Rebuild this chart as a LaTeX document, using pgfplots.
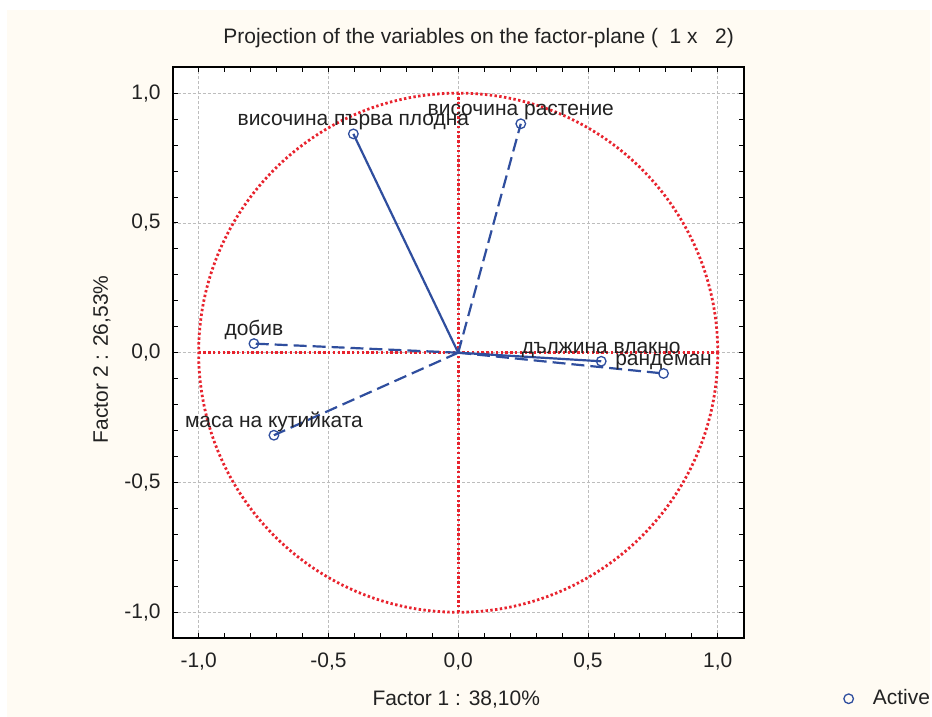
\documentclass[border=0pt]{standalone}
\usepackage{pgfplots}
\pgfplotsset{compat=1.18}
\usepackage{fontspec}
\setmainfont{Liberation Sans}
\definecolor{cream}{HTML}{FFFBF3}
\definecolor{lblue}{HTML}{2F4E9E}
\definecolor{rdot}{HTML}{E8232E}
\definecolor{txt}{HTML}{222222}
\definecolor{gridc}{HTML}{BDBDBD}
\begin{document}
\fontsize{21}{25}\selectfont
\begin{tikzpicture}[x=1pt,y=1pt]
\path[fill=white] (0,0) rectangle (932,718);
\fill[cream] (7,0) rectangle (932,708);
\node[txt,anchor=center] at (479.5,680) {Projection of the variables on the factor-plane (\ \ 1 x \ \ 2)};
\begin{axis}[
  at={(173pt,78.7pt)}, anchor=south west,
  scale only axis, width=572pt, height=572pt,
  xmin=-1.1, xmax=1.1, ymin=-1.1, ymax=1.1,
  axis background/.style={fill=white},
  axis line style={black, line width=1.8pt},
  xtick={-1,-0.5,0,0.5,1}, ytick={-1,-0.5,0,0.5,1},
  minor tick num=4,
  tick align=inside,
  major tick length=5pt, minor tick length=5pt,
  tick style={black, line width=0.9pt},
  grid=major,
  major grid style={gridc, line width=0.6pt, dash pattern=on 3pt off 2pt},
  /pgf/number format/.cd, use comma, fixed, fixed zerofill, precision=1, assume math mode=true,
  /pgfplots/.cd,
  ticklabel style={txt, font=\fontsize{21}{25}\selectfont},
  xticklabel style={inner sep=0pt, yshift=-14pt},
  yticklabel style={inner sep=0pt, xshift=-12pt},
  xlabel={Factor 1 : 38,10\%},
  ylabel={Factor 2 : 26,53\%},
  label style={txt, font=\fontsize{21}{25}\selectfont},
  xlabel style={at={(axis description cs:0.4965,-0.1065)}, anchor=center},
  ylabel style={at={(axis description cs:-0.1241,0.4883)}, anchor=center, rotate=0},
  legend style={at={(axis description cs:1.175,-0.106)}, anchor=west, draw=none, fill=none,
    font=\fontsize{21}{25}\selectfont, text=txt, inner sep=0pt},
  legend image code/.code={\draw[#1] plot coordinates {(0pt,0pt)};},
  clip=false,
]
% reference lines
\addplot[rdot, line width=2.8pt, dash pattern=on 2.4pt off 2.4pt, forget plot] coordinates {(-1,0) (1,0)};
\addplot[rdot, line width=2.8pt, dash pattern=on 2.4pt off 2.4pt, forget plot] coordinates {(0,-1) (0,1)};
\draw[rdot, line width=2.8pt, dash pattern=on 2.4pt off 2.4pt] (axis cs:0,0) circle [radius=1];
% vectors
\addplot[lblue, line width=2.2pt, forget plot] coordinates {(0,0) (-0.404,0.843)};
\addplot[lblue, line width=2.2pt, dash pattern=on 13pt off 6pt, forget plot] coordinates {(0,0) (0.241,0.882)};
\addplot[lblue, line width=2.2pt, dash pattern=on 13pt off 6pt, forget plot] coordinates {(0,0) (-0.787,0.035)};
\addplot[lblue, line width=2.2pt, dash pattern=on 13pt off 6pt, forget plot] coordinates {(0,0) (-0.710,-0.318)};
\addplot[lblue, line width=2.2pt, forget plot] coordinates {(0,0) (0.551,-0.033)};
\addplot[lblue, line width=2.2pt, dash pattern=on 13pt off 6pt, forget plot] coordinates {(0,0) (0.791,-0.080)};
% points
\addplot[only marks, mark=o, mark size=4.8pt, lblue, line width=1.3pt] coordinates {
(-0.404,0.843) (0.241,0.882) (-0.787,0.035) (-0.710,-0.318) (0.551,-0.033) (0.791,-0.080)};
\addlegendentry{\ \ \ Active}
% labels
\begin{scope}[every node/.style={txt, anchor=base, yshift=8pt, inner sep=0pt}]
\node at (axis cs:-0.404,0.843) {височина първа плодна};
\node at (axis cs:0.241,0.882) {височина растение};
\node at (axis cs:-0.787,0.035) {добив};
\node at (axis cs:-0.710,-0.318) {маса на кутийката};
\node at (axis cs:0.551,-0.033) {дължина влакно};
\node at (axis cs:0.791,-0.080) {рандеман};
\end{scope}
\end{axis}
\end{tikzpicture}
\end{document}
